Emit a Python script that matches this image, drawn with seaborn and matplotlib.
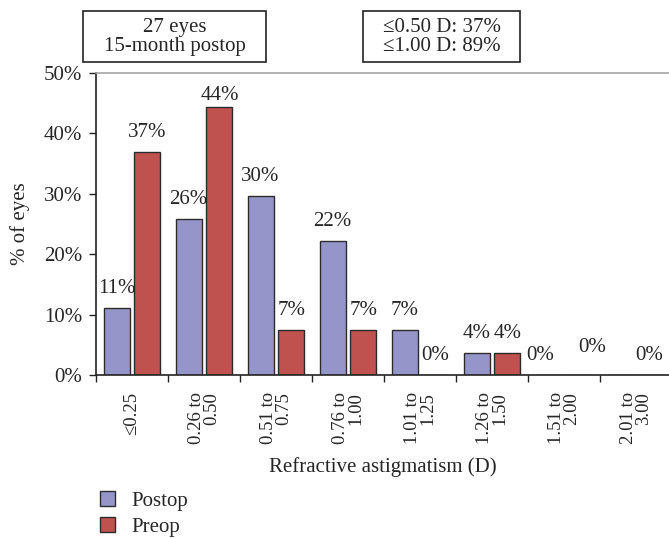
import matplotlib
matplotlib.use("Agg")
import matplotlib.pyplot as plt
from matplotlib.patches import Rectangle
from matplotlib.ticker import FuncFormatter, FixedLocator
import pandas as pd
import seaborn as sns

# Data (% of eyes)
categories = ["≤0.25", "0.26 to\n0.50", "0.51 to\n0.75", "0.76 to\n1.00",
              "1.01 to\n1.25", "1.26 to\n1.50", "1.51 to\n2.00", "2.01 to\n3.00"]
postop = [11.1, 25.9, 29.6, 22.2, 7.4, 3.7, 0.0, 0.0]
preop = [37.0, 44.4, 7.4, 7.4, 0.0, 3.7, 0.0, 0.0]
series = ["Postop", "Preop"]
palette = {"Postop": "#9595c9", "Preop": "#bf524f"}
y_ticks = [0, 10, 20, 30, 40, 50]
info_left = "27 eyes\n15-month postop"
info_right = "≤0.50 D: 37%\n≤1.00 D: 89%"

df = pd.DataFrame({
    "category": categories * 2,
    "group": ["Postop"] * len(categories) + ["Preop"] * len(categories),
    "value": postop + preop,
})

FS = 15
sns.set_style("white")
plt.rcParams["font.family"] = ["Liberation Serif", "DejaVu Serif"]
plt.rcParams["font.size"] = FS

W, H = 669, 539
fig = plt.figure(figsize=(W / 100, H / 100), dpi=100)
ax = fig.add_axes([96 / W, (H - 375) / H, 576 / W, 302 / H])

sns.barplot(data=df, x="category", y="value", hue="group", hue_order=series,
            order=categories, palette=palette, width=0.86, gap=0.16,
            edgecolor="#2b2b2b", linewidth=1.0, saturation=1, ax=ax)

ax.set_ylim(0, 50)
ax.set_xlim(-0.5, len(categories) - 0.5)
ax.yaxis.set_major_locator(FixedLocator(y_ticks))
ax.yaxis.set_major_formatter(FuncFormatter(lambda v, p: f"{v:.0f}%"))

# category labels centred, ticks on category boundaries
ax.set_xticks(range(len(categories)))
ax.set_xticklabels(categories, rotation=90, va="top", ha="center",
                   multialignment="right", linespacing=0.85)
ax.set_xticks([i - 0.5 for i in range(len(categories) + 1)], minor=True)
ax.tick_params(axis="x", which="major", length=0, pad=12.5, labelsize=13.5)
ax.tick_params(axis="x", which="minor", length=5, width=1, color="#222222",
               direction="out", bottom=True)
ax.tick_params(axis="y", length=5, width=1, color="#222222", direction="out",
               left=True, pad=5, labelsize=FS)

for s in ["left", "bottom"]:
    ax.spines[s].set_color("#222222")
    ax.spines[s].set_linewidth(1.2)
ax.spines["top"].set_color("#a6a6a6")
ax.spines["top"].set_linewidth(1.2)
ax.spines["right"].set_visible(False)

ax.set_xlabel("Refractive astigmatism (D)", fontsize=FS)
ax.set_ylabel("% of eyes", fontsize=FS)
ax.xaxis.set_label_coords(0.498, -0.272)
ax.yaxis.set_label_coords(-0.115, 0.5)

# value labels above bars (some zero labels are nudged/omitted as in the source)
nudges = {("Preop", 1): (0, -6), ("Postop", 6): (-6, 0), ("Preop", 6): (9, 6),
          ("Preop", 7): (-2, 0)}
skip = {("Postop", 7)}
for name, cont in zip(series, ax.containers):
    for i, bar in enumerate(cont.patches):
        if (name, i) in skip:
            continue
        dx, dy = nudges.get((name, i), (0, 0))
        v = bar.get_height()
        ax.annotate(f"{v:.0f}%", (bar.get_x() + bar.get_width() / 2, v),
                    xytext=(dx, 14 + dy), textcoords="offset points",
                    ha="center", va="center", fontsize=FS, annotation_clip=False)

# legend at bottom left
handles, labels = ax.get_legend_handles_labels()
ax.legend(handles, labels, loc="upper left", bbox_to_anchor=(90 / W, 1 - 481 / H),
          bbox_transform=fig.transFigure, frameon=False, fontsize=FS,
          handlelength=0.7, handleheight=0.7, handletextpad=0.8,
          labelspacing=0.3, borderpad=0)

# info boxes on top
for (x0, x1), txt in [((83, 266), info_left), ((363, 520), info_right)]:
    fig.patches.append(Rectangle((x0 / W, 1 - 62 / H), (x1 - x0) / W, 51 / H,
                                 transform=fig.transFigure, fill=False,
                                 edgecolor="#222222", linewidth=1.2))
    fig.text((x0 + x1) / 2 / W, 1 - 37 / H, txt, ha="center", va="center",
             fontsize=FS, linespacing=1.05)

fig.savefig("out.png", dpi=100, facecolor="white")
